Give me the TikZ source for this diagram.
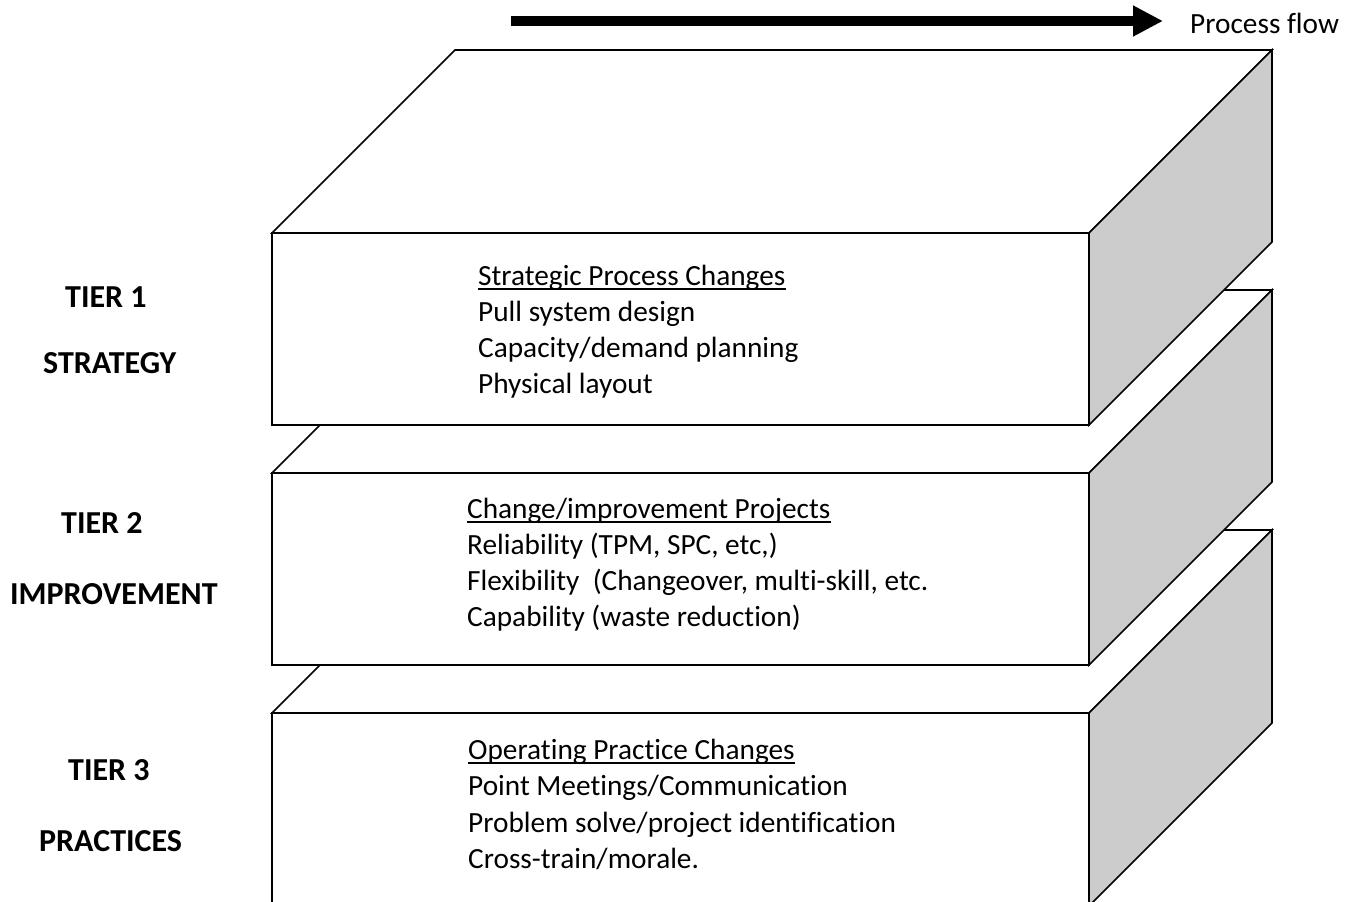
\documentclass[tikz,border=0pt]{standalone}
\usepackage{fontspec}
\setmainfont{Carlito}[Ligatures=NoCommon]
\usetikzlibrary{arrows.meta}
\definecolor{sidegray}{RGB}{204,204,204}
\begin{document}
\begin{tikzpicture}[x=1pt,y=-1pt,
  face/.style={draw=black, line width=1.6pt, line join=miter, fill=white},
  side/.style={face, fill=sidegray},
  item/.style={anchor=base west, inner sep=0pt, font=\fontsize{29.3}{36}\selectfont},
  tier/.style={anchor=base west, inner sep=0pt, font=\fontsize{32}{38}\selectfont\bfseries},
  ul/.style={line width=1.6pt},
  flowarrow/.style={line width=10pt, -{Triangle[length=30pt,width=29pt]}}]
\useasboundingbox (0,0) rectangle (1352,902);
\clip (0,0) rectangle (1352,902);

% three stacked slabs, drawn from the bottom one up
\foreach \t/\b in {713/906,473/665,233/425}{
  \path[face] (272,\t) -- (455,{\t-183}) -- (1272,{\t-183}) -- (1089,\t) -- cycle;
  \path[side] (1089,\t) -- (1272,{\t-183}) -- (1272,{\b-183}) -- (1089,\b) -- cycle;
  \path[face] (272,\t) rectangle (1089,\b);
}

% process flow arrow
\coordinate (flowstart) at (511,21);
\coordinate (flowend) at (1163,21);
\draw[flowarrow] (flowstart) -- (flowend);
\node[item] (flow) at (1190,33) {Process flow};

% tier 1
\node[item] (h1) at (478,285) {Strategic Process Changes};
\draw[ul] ([yshift=-4pt]h1.base west) -- ([yshift=-4pt]h1.base east);
\node[item] (a1) at (478,321) {Pull system design};
\node[item] (a2) at (478,357) {Capacity/demand planning};
\node[item] (a3) at (478,393) {Physical layout};

% tier 2
\node[item] (h2) at (467,518) {Change/improvement Projects};
\draw[ul] ([yshift=-4pt]h2.base west) -- ([yshift=-4pt]h2.base east);
\node[item] (b1) at (467,554) {Reliability (TPM, SPC, etc,)};
\node[item] (b2) at (467,590) {Flexibility\ \ (Changeover, multi-skill, etc.};
\node[item] (b3) at (467,626) {Capability (waste reduction)};

% tier 3
\node[item] (h3) at (468,759) {Operating Practice Changes};
\draw[ul] ([yshift=-4pt]h3.base west) -- ([yshift=-4pt]h3.base east);
\node[item] (c1) at (468,795) {Point Meetings/Communication};
\node[item] (c2) at (468,832) {Problem solve/project identification};
\node[item] (c3) at (468,868) {Cross-train/morale.};

% tier labels
\node[tier] (t1) at (65,307) {TIER 1};
\node[tier] (s1) at (43,373) {STRATEGY};
\node[tier] (t2) at (61,533) {TIER 2};
\node[tier] (s2) at (10,604) {IMPROVEMENT};
\node[tier] (t3) at (68,780) {TIER 3};
\node[tier] (s3) at (39,851) {PRACTICES};
\end{tikzpicture}
\end{document}
